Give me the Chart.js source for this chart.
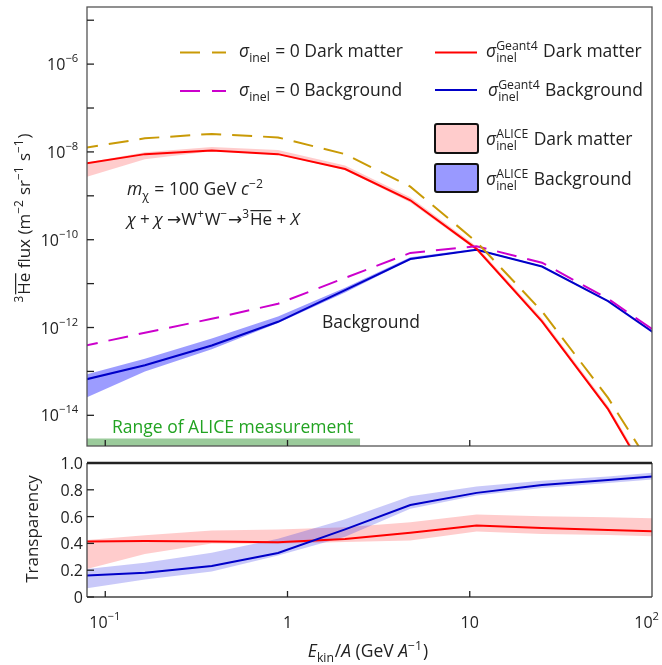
<!DOCTYPE html>
<html>
<head>
<meta charset="utf-8">
<script src="https://cdn.jsdelivr.net/npm/chart.js@4.4.1/dist/chart.umd.min.js"></script>
<style>
  html, body { margin: 0; padding: 0; background: #fff; }
  #wrap { position: relative; width: 662px; height: 665px; }
  #top { position: absolute; left: 0; top: 0; }
  #bot { position: absolute; left: 0; top: 450px; }
</style>
</head>
<body>
<div id="wrap">
  <canvas id="top" width="662" height="450"></canvas>
  <canvas id="bot" width="662" height="215"></canvas>
</div>
<script>
// kinetic energy per nucleon (GeV/A), points of the model curves
const energy = [0.071, 0.165, 0.384, 0.887, 2.07, 4.72, 10.9, 24.9, 57.4, 133];

// 3He-bar flux (m^-2 sr^-1 s^-1)
const fluxDmNoInel = [1.17e-8, 2.04e-8, 2.57e-8, 2.14e-8, 8.9e-9, 1.62e-9, 8.9e-11, 2.34e-12, 2.5e-14, 1.0e-16];
const fluxBgNoInel = [3.56e-13, 7.6e-13, 1.58e-12, 3.47e-12, 1.35e-11, 5.0e-11, 7.1e-11, 3.0e-11, 4.5e-12, 4.1e-13];
const fluxDmGeant = [5.1e-9, 8.9e-9, 1.07e-8, 8.9e-9, 4.07e-9, 7.9e-10, 6.2e-11, 1.38e-12, 1.38e-14, 3.5e-17];
const fluxBgGeant = [5.97e-14, 1.38e-13, 3.9e-13, 1.35e-12, 7.1e-12, 3.63e-11, 5.9e-11, 2.45e-11, 3.98e-12, 3.6e-13];
const fluxDmAliceHi = [5.3e-9, 9.8e-9, 1.29e-8, 1.10e-8, 4.9e-9, 9.25e-10, 7.1e-11, 1.62e-12, 1.66e-14, 4.3e-17];
const fluxDmAliceLo = [2.36e-9, 6.8e-9, 1.04e-8, 8.65e-9, 3.87e-9, 7.0e-10, 5.66e-11, 1.26e-12, 1.28e-14, 3.3e-17];
const fluxBgAliceHi = [7.6e-14, 1.95e-13, 5.6e-13, 1.79e-12, 8.1e-12, 3.97e-11, 6.25e-11, 2.55e-11, 4.1e-12, 3.74e-13];
const fluxBgAliceLo = [2.1e-14, 9.9e-14, 3.2e-13, 1.27e-12, 6.3e-12, 3.48e-11, 5.74e-11, 2.39e-11, 3.87e-12, 3.55e-13];

// transparency
const transDm = [0.414, 0.417, 0.414, 0.409, 0.432, 0.479, 0.533, 0.514, 0.500, 0.486];
const transDmHi = [0.42, 0.46, 0.496, 0.504, 0.52, 0.558, 0.615, 0.603, 0.595, 0.584];
const transDmLo = [0.191, 0.32, 0.40, 0.397, 0.41, 0.422, 0.489, 0.471, 0.462, 0.45];
const transBg = [0.158, 0.181, 0.231, 0.328, 0.505, 0.687, 0.777, 0.836, 0.873, 0.912];
const transBgHi = [0.202, 0.256, 0.33, 0.434, 0.58, 0.752, 0.824, 0.868, 0.90, 0.94];
const transBgLo = [0.056, 0.13, 0.19, 0.31, 0.45, 0.658, 0.757, 0.814, 0.85, 0.89];

// axes
const energyMin = 0.0794, energyMax = 100;
const energyTicks = [0.1, 1, 10, 100];
const energyLabels = [['10', '−1'], ['1', ''], ['10', ''], ['10', '2']];
const fluxMin = 2.0e-15, fluxMax = 2.0e-5;
const fluxTicks = [1e-5, 1e-6, 1e-7, 1e-8, 1e-9, 1e-10, 1e-11, 1e-12, 1e-13, 1e-14];
const fluxLabelExp = ['−6', '−8', '−10', '−12', '−14'];
const transTicks = [0, 0.2, 0.4, 0.6, 0.8, 1.0];
const transLabels = ['0', '0.2', '0.4', '0.6', '0.8', '1.0'];
const aliceRange = [0.0794, 2.5];

const FAM = '"Open Sans", "DejaVu Sans", sans-serif';
const INK = '#222';
const GOLD = '#c99a06', MAG = '#cc00cc', RED = '#ff0000', BLUE = '#0000c8';
const DASH = [20, 11];
const TXT = 17.5, TICK = 16;

function setFont(ctx, size, it) { ctx.font = (it ? 'italic ' : '') + size + 'px ' + FAM; }

function segWidth(ctx, s, size) {
  if (s.t !== undefined) { setFont(ctx, size, s.it); return ctx.measureText(s.t).width; }
  setFont(ctx, size * 0.7, false);
  const a = s.sub ? ctx.measureText(s.sub).width : 0;
  const b = s.sup ? ctx.measureText(s.sup).width : 0;
  return Math.max(a, b) + size * 0.05;
}

// text with sub/superscripts and overlines
function drawRich(ctx, segs, x, y, size, align, color, rise) {
  rise = rise || 0.4;
  const ws = segs.map(s => segWidth(ctx, s, size));
  const total = ws.reduce((p, c) => p + c, 0);
  let cx = align === 'right' ? x - total : align === 'center' ? x - total / 2 : x;
  ctx.fillStyle = color || INK;
  ctx.textAlign = 'left';
  ctx.textBaseline = 'alphabetic';
  segs.forEach((s, i) => {
    if (s.t !== undefined) {
      setFont(ctx, size, s.it);
      ctx.fillText(s.t, cx, y);
      if (s.over) ctx.fillRect(cx + 0.5, y - size * 0.88, ws[i] - 1, Math.max(1, size * 0.07));
    } else {
      setFont(ctx, size * 0.7, false);
      if (s.sup) ctx.fillText(s.sup, cx, y - size * rise);
      if (s.sub) ctx.fillText(s.sub, cx, y + size * 0.3);
    }
    cx += ws[i];
  });
}

function seg(ctx, x0, y0, x1, y1) { ctx.beginPath(); ctx.moveTo(x0, y0); ctx.lineTo(x1, y1); ctx.stroke(); }

function roundBox(ctx, x, y, w, h, r, fill) {
  ctx.beginPath();
  ctx.moveTo(x + r, y); ctx.lineTo(x + w - r, y); ctx.quadraticCurveTo(x + w, y, x + w, y + r);
  ctx.lineTo(x + w, y + h - r); ctx.quadraticCurveTo(x + w, y + h, x + w - r, y + h);
  ctx.lineTo(x + r, y + h); ctx.quadraticCurveTo(x, y + h, x, y + h - r);
  ctx.lineTo(x, y + r); ctx.quadraticCurveTo(x, y, x + r, y);
  ctx.closePath();
  ctx.fillStyle = fill; ctx.fill();
  ctx.strokeStyle = '#111'; ctx.lineWidth = 2; ctx.stroke();
}

function series(vals) { return energy.map((e, i) => ({ x: e, y: vals[i] })); }
function lineDs(label, vals, color, dash) {
  return { label, data: series(vals), borderColor: color, borderWidth: 2, borderDash: dash || [],
           pointRadius: 0, fill: false, tension: 0 };
}
function bandDs(label, vals, color, fill) {
  return { label, data: series(vals), borderWidth: 0, borderColor: 'rgba(0,0,0,0)',
           backgroundColor: color, pointRadius: 0, fill: fill, tension: 0 };
}

const sigInel = [{ t: 'σ', it: true }, { sub: 'inel' }];

const topDecor = {
  id: 'topDecor',
  beforeDatasetsDraw(chart) {
    const { ctx, chartArea: a, scales: { x } } = chart;
    const x0 = Math.max(a.left, x.getPixelForValue(aliceRange[0]));
    const x1 = x.getPixelForValue(aliceRange[1]);
    ctx.save();
    ctx.fillStyle = '#9bcb9b';
    ctx.fillRect(x0, a.bottom - 7.5, x1 - x0, 7.5);
    ctx.restore();
  },
  afterDraw(chart) {
    const { ctx, chartArea: a, scales: { x, y } } = chart;
    ctx.save();
    ctx.strokeStyle = '#555'; ctx.lineWidth = 1.3;
    ctx.strokeRect(a.left, a.top, a.right - a.left, a.bottom - a.top);
    ctx.strokeStyle = INK;
    fluxTicks.forEach(v => { const py = y.getPixelForValue(v); seg(ctx, a.left, py, a.left + 7, py); });
    energyTicks.forEach(v => {
      const px = x.getPixelForValue(v);
      if (px < a.right - 2) seg(ctx, px, a.bottom, px, a.bottom - 6);
    });
    fluxLabelExp.forEach(e => {
      const py = y.getPixelForValue(Number('1e' + e.replace('−', '-')));
      drawRich(ctx, [{ t: '10' }, { sup: e }], 79, py + 6, TICK, 'right', INK, 0.5);
    });

    // y title
    ctx.save();
    ctx.translate(30, 218);
    ctx.rotate(-Math.PI / 2);
    drawRich(ctx, [{ sup: '3' }, { t: 'He', over: true }, { t: ' flux (m' }, { sup: '−2' }, { t: ' sr' },
                   { sup: '−1' }, { t: ' s' }, { sup: '−1' }, { t: ')' }], 0, 0, 17, 'center');
    ctx.restore();

    // legend
    ctx.lineWidth = 2;
    ctx.setLineDash([20, 12]);
    ctx.strokeStyle = GOLD; seg(ctx, 180, 52.5, 226, 52.5);
    ctx.strokeStyle = MAG; seg(ctx, 180, 91, 226, 91);
    ctx.setLineDash([]);
    ctx.strokeStyle = RED; seg(ctx, 435, 52.5, 477, 52.5);
    ctx.strokeStyle = BLUE; seg(ctx, 435, 90, 477, 90);
    drawRich(ctx, [...sigInel, { t: ' = 0 Dark matter' }], 239, 57, TXT, 'left');
    drawRich(ctx, [...sigInel, { t: ' = 0 Background' }], 239, 96, TXT, 'left');
    drawRich(ctx, [{ t: 'σ', it: true }, { sup: 'Geant4', sub: 'inel' }, { t: ' Dark matter' }], 486, 57, TXT, 'left');
    drawRich(ctx, [{ t: 'σ', it: true }, { sup: 'Geant4', sub: 'inel' }, { t: ' Background' }], 488, 96, TXT, 'left');
    roundBox(ctx, 435, 124, 43, 29, 2, '#ffcccc');
    roundBox(ctx, 435, 164, 43, 28, 2, '#9999ff');
    drawRich(ctx, [{ t: 'σ', it: true }, { sup: 'ALICE', sub: 'inel' }, { t: ' Dark matter' }], 486, 145, TXT, 'left');
    drawRich(ctx, [{ t: 'σ', it: true }, { sup: 'ALICE', sub: 'inel' }, { t: ' Background' }], 486, 185, TXT, 'left');

    // annotations
    drawRich(ctx, [{ t: 'm', it: true }, { sub: 'χ' }, { t: ' = 100 GeV ' }, { t: 'c', it: true }, { sup: '−2' }],
             127, 195, TXT, 'left');
    drawRich(ctx, [{ t: 'χ', it: true }, { t: ' + ' }, { t: 'χ', it: true }, { t: ' →W' }, { sup: '+' }, { t: 'W' },
                   { sup: '−' }, { t: '→' }, { sup: '3' }, { t: 'He', over: true }, { t: ' + ' }, { t: 'X', it: true }],
             127, 225, 17, 'left');
    drawRich(ctx, [{ t: 'Background' }], 322, 328, TXT, 'left');
    drawRich(ctx, [{ t: 'Range of ALICE measurement' }], 112, 432.5, TXT, 'left', '#22a322');
    ctx.restore();
  }
};

const botDecor = {
  id: 'botDecor',
  afterDraw(chart) {
    const { ctx, chartArea: a, scales: { x, y } } = chart;
    ctx.save();
    ctx.strokeStyle = '#444'; ctx.lineWidth = 1.3;
    seg(ctx, a.left, a.top, a.left, a.bottom);
    seg(ctx, a.right, a.top, a.right, a.bottom);
    seg(ctx, a.left, a.bottom, a.right, a.bottom);
    ctx.strokeStyle = '#222'; ctx.lineWidth = 2.4;
    seg(ctx, a.left, a.top, a.right, a.top);
    ctx.lineWidth = 1.3;
    transTicks.forEach((v, i) => {
      const py = y.getPixelForValue(v);
      seg(ctx, a.left, py, a.left + 7, py);
      drawRich(ctx, [{ t: transLabels[i] }], 83, py + 6, TICK, 'right');
    });
    energyTicks.forEach((v, i) => {
      const px = x.getPixelForValue(v);
      if (px < a.right - 2) seg(ctx, px, a.bottom, px, a.bottom - 6);
      const l = energyLabels[i];
      const segs = l[1] ? [{ t: l[0] }, { sup: l[1] }] : [{ t: l[0] }];
      drawRich(ctx, segs, Math.min(px, a.right - 5), 178, TICK, 'center', INK, 0.5);
    });
    drawRich(ctx, [{ t: 'E', it: true }, { sub: 'kin' }, { t: '/' }, { t: 'A', it: true }, { t: ' (GeV ' },
                   { t: 'A', it: true }, { sup: '−1' }, { t: ')' }], 368, 207, TXT, 'center');
    ctx.save();
    ctx.translate(38, 79);
    ctx.rotate(-Math.PI / 2);
    drawRich(ctx, [{ t: 'Transparency' }], 0, 0, 17, 'center');
    ctx.restore();
    ctx.restore();
  }
};

const baseOpts = {
  responsive: false,
  animation: false,
  events: [],
  plugins: { legend: { display: false }, tooltip: { enabled: false } }
};

new Chart(document.getElementById('top'), {
  type: 'line',
  data: {
    datasets: [
      lineDs('σinel = 0 Dark matter', fluxDmNoInel, GOLD, DASH),
      lineDs('σinel = 0 Background', fluxBgNoInel, MAG, DASH),
      lineDs('σinel Geant4 Dark matter', fluxDmGeant, RED),
      lineDs('σinel Geant4 Background', fluxBgGeant, BLUE),
      bandDs('σinel ALICE Dark matter', fluxDmAliceHi, 'rgba(255,0,0,0.2)', '+1'),
      bandDs('ALICE DM low', fluxDmAliceLo, 'rgba(255,0,0,0.2)', false),
      bandDs('σinel ALICE Background', fluxBgAliceHi, 'rgba(20,20,255,0.42)', '+1'),
      bandDs('ALICE BG low', fluxBgAliceLo, 'rgba(20,20,255,0.42)', false)
    ]
  },
  options: Object.assign({}, baseOpts, {
    layout: { padding: { left: 87, right: 10, top: 7, bottom: 4 } },
    scales: {
      x: { type: 'logarithmic', min: energyMin, max: energyMax, display: false },
      y: { type: 'logarithmic', min: fluxMin, max: fluxMax, display: false }
    }
  }),
  plugins: [topDecor]
});

new Chart(document.getElementById('bot'), {
  type: 'line',
  data: {
    datasets: [
      lineDs('Background', transBg, BLUE),
      lineDs('Dark matter', transDm, RED),
      bandDs('ALICE Background', transBgHi, 'rgba(40,40,230,0.25)', '+1'),
      bandDs('ALICE BG low', transBgLo, 'rgba(40,40,230,0.25)', false),
      bandDs('ALICE Dark matter', transDmHi, 'rgba(255,0,0,0.2)', '+1'),
      bandDs('ALICE DM low', transDmLo, 'rgba(255,0,0,0.2)', false)
    ]
  },
  options: Object.assign({}, baseOpts, {
    layout: { padding: { left: 87, right: 10, top: 13, bottom: 68 } },
    scales: {
      x: { type: 'logarithmic', min: energyMin, max: energyMax, display: false },
      y: { type: 'linear', min: 0, max: 1, display: false }
    }
  }),
  plugins: [botDecor]
});
</script>
</body>
</html>
